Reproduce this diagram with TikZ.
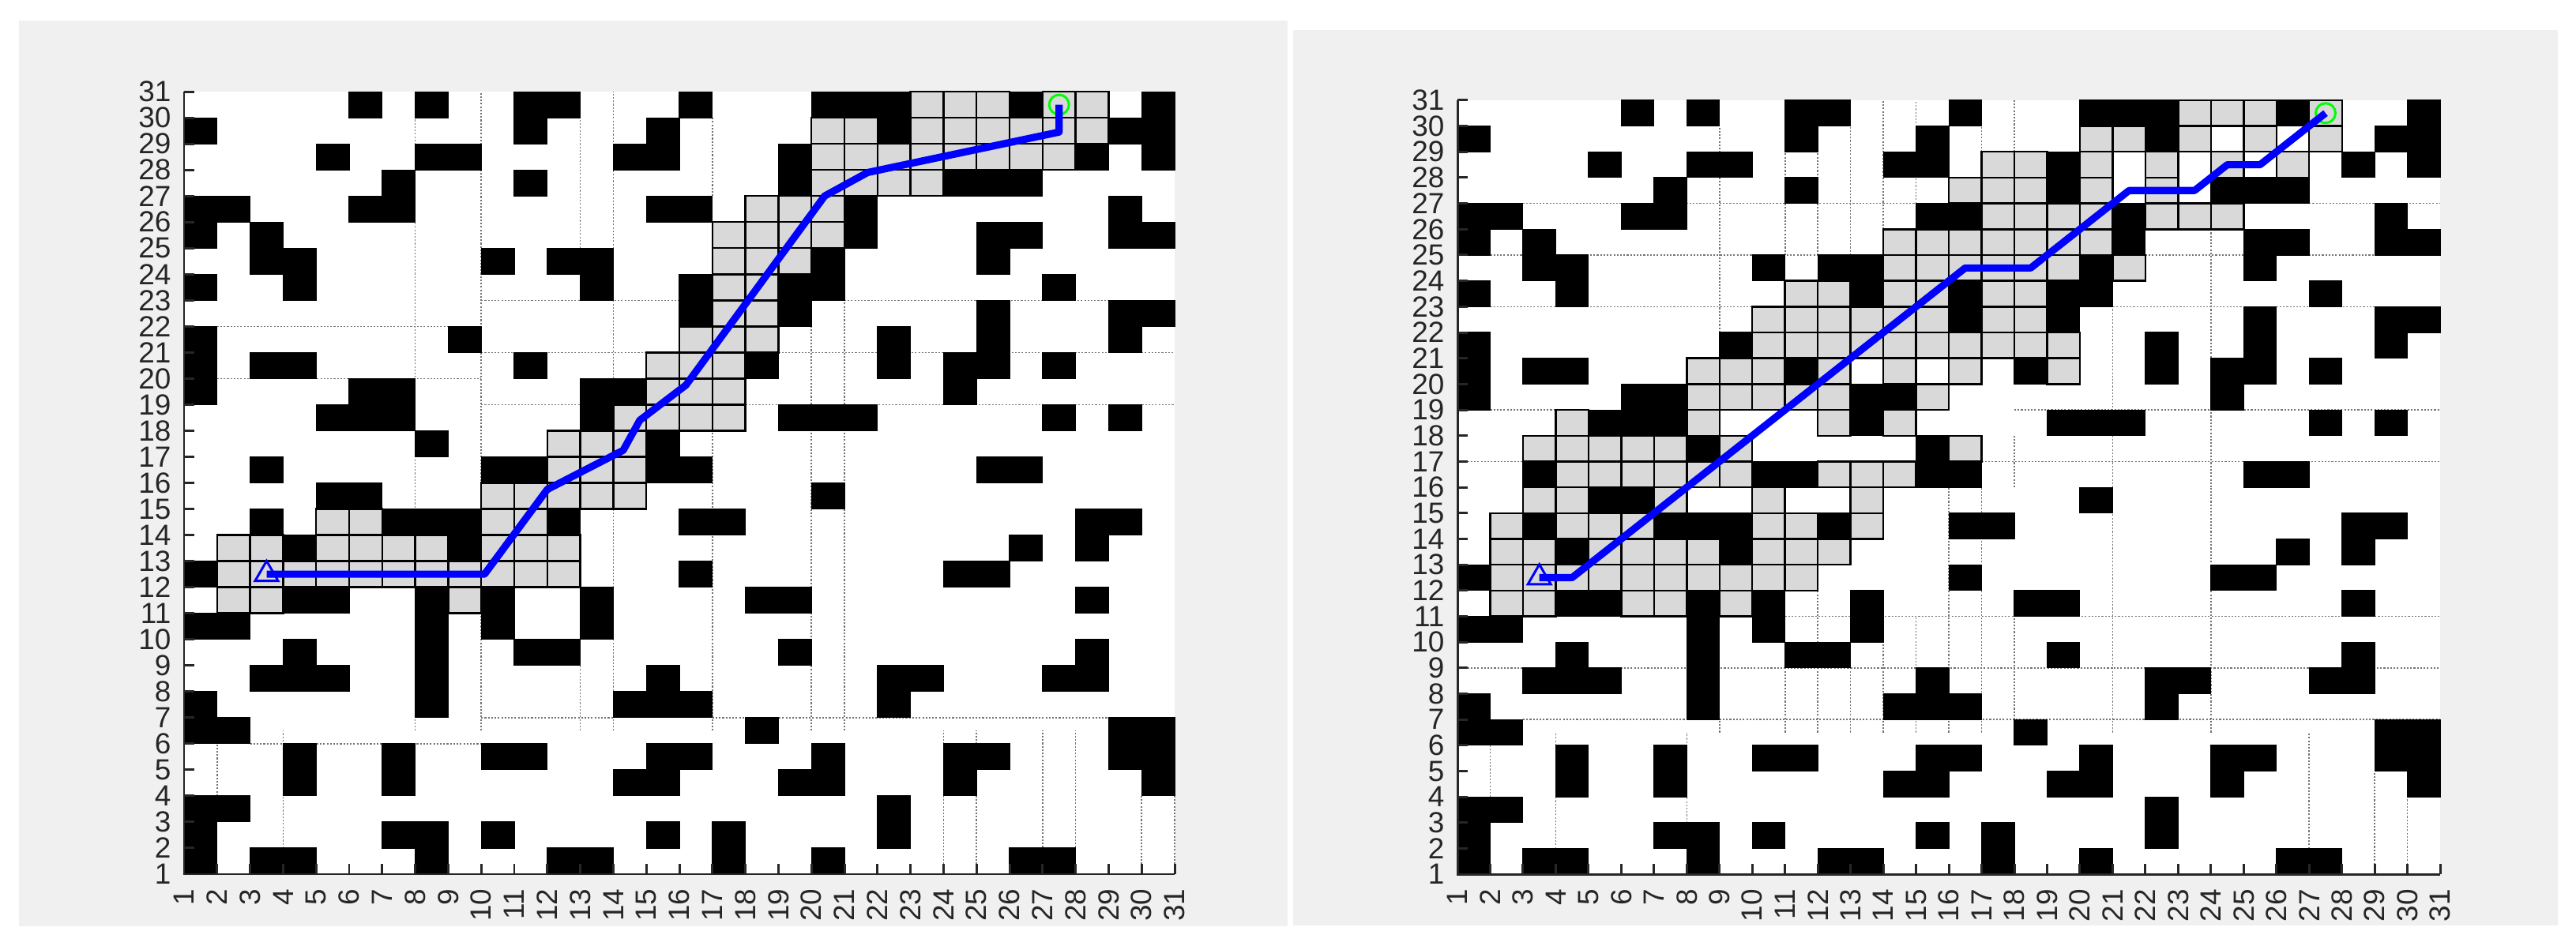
\documentclass[tikz,border=0pt]{standalone}
\usepackage{fontspec}
\setmainfont{Liberation Sans}
\usetikzlibrary{shapes.geometric}
\definecolor{axgray}{HTML}{262626}
\definecolor{panelbg}{HTML}{F0F0F0}
\definecolor{visit}{HTML}{D9D9D9}
\definecolor{pb}{HTML}{0000FF}
\definecolor{gr}{HTML}{00FF00}

% obstacle cells, row/{columns}
\newcommand{\obstmap}{30/{6,8,11,12,16,20,21,22,26,30},29/{1,11,15,22,29,30},
 28/{5,8,9,14,15,19,28,30},27/{7,11,19,24,25,26},26/{1,2,6,7,15,16,21,29},
 25/{1,3,21,25,26,29,30},24/{3,4,10,12,13,20,25},23/{1,4,13,16,19,20,27},
 22/{16,19,25,29,30},21/{1,9,22,25,29},20/{1,3,4,11,18,22,24,25,27},
 19/{1,6,7,13,14,24},18/{5,6,7,13,19,20,21,27,29},17/{8,15},
 16/{3,10,11,15,16,25,26},15/{5,6,20},14/{3,7,8,9,12,16,17,28,29},
 13/{4,9,26,28},12/{1,16,24,25},11/{4,5,8,10,13,18,19,28},10/{1,2,8,10,13},
 9/{4,8,11,12,19,28},8/{3,4,5,8,15,22,23,27,28},7/{1,8,14,15,16,22},
 6/{1,2,18,29,30},5/{4,7,10,11,15,16,20,24,25,29,30},4/{4,7,14,15,19,20,24,30},
 3/{1,2,22},2/{1,7,8,10,15,17,22},1/{1,3,4,8,12,13,17,20,26,27}}
% visited cells, left run
\newcommand{\openL}{11/{2,3,9},12/{2,...,12},13/{2,3,5,6,7,8,10,11,12},14/{5,6,10,11},
 15/{10,...,14},16/{12,13,14},17/{12,13,14},18/{14,15,16,17},19/{15,16,17},
 20/{15,16,17},21/{16,17,18},22/{17,18},23/{17,18},24/{17,18,19},25/{17,...,20},
 26/{18,19,20},27/{20,...,23},28/{20,...,27},29/{20,21,23,24,25,26,27,28},
 30/{23,24,25,27,28}}
% visited cells, right run
\newcommand{\openR}{11/{2,3,6,7,9},12/{2,...,11},13/{2,3,5,6,7,8,10,11,12},
 14/{2,4,5,6,10,11,13},15/{3,4,7,...,14},16/{4,...,9,12,13,14},
 17/{3,...,7,9,...,14,16},18/{4,8,...,12,14,...,17},19/{8,...,12,15,...,18},
 20/{8,9,10,12,...,17,19},21/{10,...,19},22/{10,...,15,17,18},
 23/{11,12,14,15,17,18},24/{14,...,19,21},25/{14,...,20},26/{17,...,20,22,23,24},
 27/{16,17,18,20,...,23},28/{17,18,20,...,27},29/{20,21,23,...,27},30/{23,24,25,27}}

\tikzset{
  cellv/.style={fill=visit,draw=black,line width=0.7pt},
  cellb/.style={fill=black,draw=black,line width=0.3pt},
  gline/.style={draw=black!55,line width=0.45pt,dash pattern=on 0.6pt off 0.6pt},
  axline/.style={draw=axgray,line width=0.85pt},
  route/.style={draw=pb,line width=2.6pt,line join=round},
  ylab/.style={anchor=east,text=axgray,inner sep=0pt,font=\fontsize{10.5}{11}\selectfont},
  xlab/.style={anchor=east,rotate=90,text=axgray,inner sep=0pt,font=\fontsize{10.5}{11}\selectfont},
  startmark/.style={draw=pb,line width=0.85pt,regular polygon,regular polygon sides=3,
    minimum size=0.335cm,inner sep=0pt},
  goalmark/.style={draw=gr,line width=0.85pt,circle,minimum size=0.25cm,inner sep=0pt}
}

\begin{document}
\begin{tikzpicture}
\useasboundingbox (0,0) rectangle (32.61,11.97);
\fill[white] (0,0) rectangle (32.61,11.97);
\fill[panelbg] (0.24,0.24) rectangle (16.30,11.71);
\fill[panelbg] (16.37,0.25) rectangle (32.38,11.59);

% left panel
\begin{scope}[shift={(1.912cm,0.5697cm)},x=0.418cm,y=0.3303cm]
  \fill[white] (1,1) rectangle (31,31);
  \foreach \xa/\ya/\xb/\yb in {8/6.5/8/30,10/6.5/10/31,13/25/13/30,13/6.5/13/9,
    14/20/14/31,14/6.5/14/15,17/27/17/30,17/6.5/17/20,20/6.5/20/23,21/6.5/21/23,
    24/1/24/6.5,25/1/25/6.5,27/1/27/6.5,28/1/28/6.5,30/1/30/4,31/1/31/4,2/4/2/6,
    4/2/4/6.5,10/23/31/23,2/22/9/22,10/21/15/21,19/21/31/21,2/20/10/20,
    10/19/13/19,18/19/31/19,10/7/14/7,17/7/29/7,3/6/10/6}
    \draw[gline] (\xa,\ya) -- (\xb,\yb);
  \foreach \r/\cols in \openL {\foreach \c in \cols {\filldraw[cellv] (\c,\r) rectangle ++(1,1);}}
  \foreach \r/\cols in \obstmap {\foreach \c in \cols {\filldraw[cellb] (\c,\r) rectangle ++(1,1);}}
  \draw[axline] (1,31) -- (1,1) -- (31,1);
  \foreach \k in {1,...,31} {
    \draw[axline] (1,\k) -- ++(0.13cm,0);
    \draw[axline] (\k,1) -- ++(0,0.13cm);
    \path (1,\k) ++(-0.16cm,0) node[ylab] (Ly\k) {\k};
    \path (\k,1) ++(0,-0.18cm) node[xlab] (Lx\k) {\k};
  }
  \node[startmark] (Lstart) at (3.5,12.5) {};
  \node[goalmark] (Lgoal) at (27.5,30.5) {};
  \coordinate (La) at (10.1,12.5);
  \coordinate (Lb) at (12,15.75);
  \coordinate (Lc) at (14.3,17.25);
  \coordinate (Ld) at (14.8,18.4);
  \coordinate (Le) at (16.2,19.75);
  \coordinate (Lf) at (20.4,27);
  \coordinate (Lg) at (21.7,27.9);
  \coordinate (Lh) at (27.5,29.45);
  \draw[route] (Lstart.center) -- (La) -- (Lb) -- (Lc) -- (Ld) -- (Le) -- (Lf) -- (Lg) -- (Lh) -- (Lgoal.center);
\end{scope}

% right panel
\begin{scope}[shift={(18.0353cm,0.5702cm)},x=0.4147cm,y=0.3268cm]
  \fill[white] (1,1) rectangle (31,31);
  \foreach \xa/\ya/\xb/\yb in {9/22/9/30,11/25/11/29,12/25/12/30,13/25/13/30,
    14/26/14/31,15/27/15/31,17/29/17/30,18/29/18/31,18/16/18/18,21/16/21/23,
    24/16/24/26,3/27/15/27,27/27/31/27,2/25/12/25,22/25/29/25,2/23/10/23,
    20/23/31/23,2/19/4/19,18/19/31/19,1/17/3/17,17/17/31/17,11/11/31/11,
    1/9/31/9,3/7/31/7,11/6.5/11/9,12/6.5/12/12,13/6.5/13/12,14/6.5/14/11,
    15/6.5/15/11,16/6.5/16/17,17/6.5/17/17,18/7/18/11,21/6.5/21/16,24/6.5/24/16,
    9/6.5/9/7,2/4/2/6,4/2/4/6.5,8/3/8/6.5,27/2/27/6.5,29/1/29/5,30/1/30/4}
    \draw[gline] (\xa,\ya) -- (\xb,\yb);
  \foreach \r/\cols in \openR {\foreach \c in \cols {\filldraw[cellv] (\c,\r) rectangle ++(1,1);}}
  \foreach \r/\cols in \obstmap {\foreach \c in \cols {\filldraw[cellb] (\c,\r) rectangle ++(1,1);}}
  \draw[axline] (1,31) -- (1,1) -- (31,1);
  \foreach \k in {1,...,31} {
    \draw[axline] (1,\k) -- ++(0.13cm,0);
    \draw[axline] (\k,1) -- ++(0,0.13cm);
    \path (1,\k) ++(-0.16cm,0) node[ylab] (Ry\k) {\k};
    \path (\k,1) ++(0,-0.18cm) node[xlab] (Rx\k) {\k};
  }
  \node[startmark] (Rstart) at (3.5,12.5) {};
  \node[goalmark] (Rgoal) at (27.5,30.5) {};
  \coordinate (Ra) at (4.5,12.5);
  \coordinate (Rb) at (16.5,24.5);
  \coordinate (Rc) at (18.5,24.5);
  \coordinate (Rd) at (21.5,27.5);
  \coordinate (Re) at (23.5,27.5);
  \coordinate (Rf) at (24.5,28.5);
  \coordinate (Rg) at (25.5,28.5);
  \draw[route] (Rstart.center) -- (Ra) -- (Rb) -- (Rc) -- (Rd) -- (Re) -- (Rf) -- (Rg) -- (Rgoal.center);
\end{scope}
\end{tikzpicture}
\end{document}
